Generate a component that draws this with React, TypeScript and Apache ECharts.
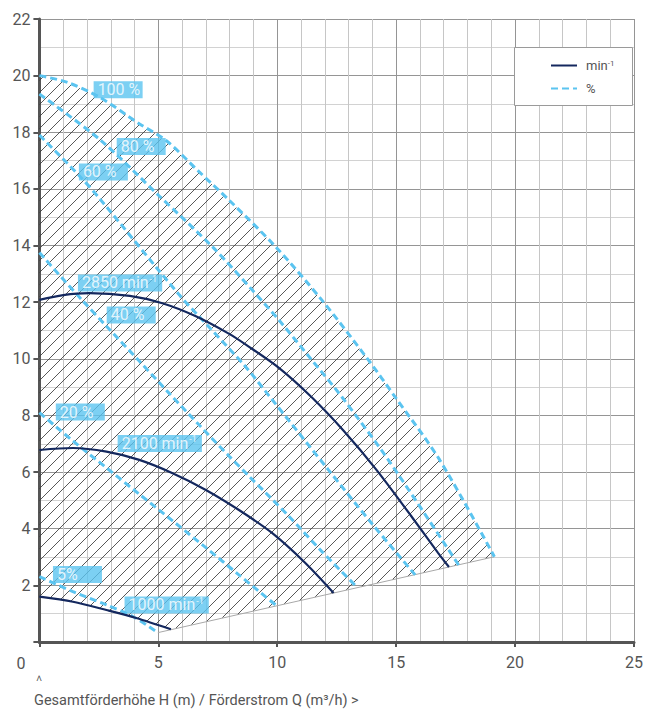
import React, { useEffect, useRef } from "react";
import * as echarts from "echarts";

// Percent lines (Q m³/h, H m)
const pct100 = [[0, 20], [1.15, 19.77], [2.53, 19.24], [4.2, 18.3], [5.34, 17.7], [6.72, 16.6], [7.98, 15.6], [9.93, 13.96], [11.87, 12.08], [13.83, 9.96], [14.95, 8.66], [16.83, 6.43], [19.13, 3.01]];
const pct80 = [[0, 19.35], [2.53, 17.75], [5.04, 15.75], [7.27, 13.96], [8.95, 12.43], [10.07, 11.37], [11.45, 9.96], [12.71, 8.66], [14.67, 6.43], [17.68, 2.65]];
const pct60 = [[0, 17.9], [1.7, 16.45], [2.54, 15.65], [5.89, 12.25], [7.27, 11.0], [8.67, 9.72], [9.65, 8.7], [12.16, 6.07], [13.96, 4.2], [15.8, 2.37]];
const pct40 = [[0, 13.75], [1.82, 12.05], [2.82, 11.15], [4.2, 9.92], [5.46, 8.78], [6.72, 7.66], [7.98, 6.56], [8.82, 5.85], [10.48, 4.45], [11.87, 3.2], [13.34, 1.95]];
const pct20 = [[0, 8.1], [1.41, 7.1], [2.82, 6.15], [4.2, 5.22], [5.6, 4.28], [7.0, 3.33], [8.39, 2.37], [9.93, 1.31]];
const pct5 = [[0, 2.31], [1.41, 1.78], [2.82, 1.31], [3.93, 0.9], [4.98, 0.33]];

// Speed curves
const rpm2850 = [[0, 12.08], [1, 12.25], [2.1, 12.32], [3.8, 12.22], [5.17, 11.96], [6.58, 11.5], [7.98, 10.88], [8.68, 10.5], [10.07, 9.68], [11.45, 8.64], [12.8, 7.45], [14.18, 6.07], [15.63, 4.45], [16.76, 3.15], [17.22, 2.65]];
const rpm2100 = [[0, 6.78], [1.41, 6.85], [2.82, 6.72], [4.2, 6.43], [5.6, 5.96], [7.0, 5.37], [8.39, 4.66], [9.78, 3.85], [11.18, 2.79], [12.37, 1.73]];
const rpm1000 = [[0, 1.6], [1.41, 1.42], [2.82, 1.13], [4.07, 0.85], [5.53, 0.45]];

// Lower boundary of the operating range
const boundary = [[4.98, 0.33], [19.13, 3.01]];

// Curve labels [text, Q, H]
const pctLabels = [["100 %", 2.28, 19.5], ["80 %", 3.25, 17.5], ["60 %", 1.66, 16.6], ["40 %", 2.83, 11.55], ["20 %", 0.69, 8.12], ["5%", 0.57, 2.38]];
const rpmLabels = [["2850 min{s|-1}", 1.62, 12.68], ["2100 min{s|-1}", 3.29, 7.01], ["1000 min{s|-1}", 3.58, 1.31]];

const xTicks = [0, 5, 10, 15, 20, 25];
const yTicks = [0, 2, 4, 6, 8, 10, 12, 14, 16, 18, 20, 22];

const NAVY = "#14285e";
const LIGHT = "#5bc4f0";
const FONT = "Roboto, 'Noto Sans', sans-serif";
const RPM_NAME = "min-1";
const PCT_NAME = "%";

function makeHatch(): string {
  const c = document.createElement("canvas");
  const s = 12;
  c.width = s;
  c.height = s;
  const ctx = c.getContext("2d");
  if (ctx) {
    ctx.strokeStyle = "#3a3a3a";
    ctx.lineWidth = 0.85;
    ctx.beginPath();
    ctx.moveTo(-2, s + 2);
    ctx.lineTo(s + 2, -2);
    ctx.moveTo(-2, 2);
    ctx.lineTo(2, -2);
    ctx.moveTo(s - 2, s + 2);
    ctx.lineTo(s + 2, s - 2);
    ctx.stroke();
  }
  return c.toDataURL();
}

export default function App() {
  const ref = useRef<HTMLDivElement>(null);
  useEffect(() => {
    document.body.style.margin = "0";
    if (!ref.current) return;
    const chart = echarts.init(ref.current, null, { renderer: "svg" });
    const hatch = makeHatch();

    const pctSeries = [pct100, pct80, pct60, pct40, pct20, pct5].map((d) => ({
      type: "line",
      name: PCT_NAME,
      data: d,
      smooth: 0.3,
      symbol: "none",
      z: 3,
      lineStyle: { color: LIGHT, width: 3, type: [7, 4] },
      itemStyle: { color: LIGHT },
    }));
    const rpmSeries = [rpm2850, rpm2100, rpm1000].map((d) => ({
      type: "line",
      name: RPM_NAME,
      data: d,
      smooth: 0.3,
      symbol: "none",
      z: 4,
      lineStyle: { color: NAVY, width: 2.2 },
      itemStyle: { color: NAVY },
    }));

    const labelBase = {
      show: true,
      position: "right",
      distance: 0,
      formatter: (p: any) => p.name,
      color: "#ffffff",
      backgroundColor: LIGHT,
      fontFamily: FONT,
      fontSize: 16,
      lineHeight: 17,
      align: "left",
    };

    chart.setOption({
      animation: false,
      textStyle: { fontFamily: FONT },
      grid: { left: 39.4, right: 9, top: 19, bottom: 71, containLabel: false },
      legend: {
        orient: "vertical",
        left: 550,
        top: 59,
        padding: 0,
        itemWidth: 26,
        itemHeight: 14,
        itemGap: 10,
        z: 10,
        selectedMode: false,
        itemStyle: { opacity: 0 },
        data: [RPM_NAME, PCT_NAME],
        formatter: (n: string) => (n === RPM_NAME ? "min{s|-1}" : n),
        textStyle: {
          fontSize: 13,
          color: "#555",
          fontFamily: FONT,
          padding: [0, 0, 0, 4],
          rich: { s: { fontSize: 8, color: "#555", fontFamily: FONT, verticalAlign: "top", padding: [0, 0, 5, 0] } },
        },
      },
      xAxis: {
        type: "value",
        min: xTicks[0],
        max: xTicks[xTicks.length - 1],
        interval: 5,
        axisLine: { show: true, onZero: false, lineStyle: { color: "#555", width: 3 } },
        axisTick: { show: true, length: 5, lineStyle: { color: "#555", width: 2 } },
        axisLabel: {
          color: "#555",
          fontSize: 16,
          margin: 12,
          fontFamily: FONT,
          formatter: (v: number) => (v === 0 ? "" : String(v)),
        },
        splitLine: { show: true, lineStyle: { color: "#959595", width: 1 } },
        minorTick: { show: false, splitNumber: 5 },
        minorSplitLine: { show: true, lineStyle: { color: "#c6c6c6", width: 1 } },
      },
      yAxis: {
        type: "value",
        min: yTicks[0],
        max: yTicks[yTicks.length - 1],
        interval: 2,
        axisLine: { show: true, onZero: false, lineStyle: { color: "#555", width: 3 } },
        axisTick: { show: true, length: 6, lineStyle: { color: "#555", width: 2 } },
        axisLabel: {
          color: "#555",
          fontSize: 16,
          margin: 9,
          fontFamily: FONT,
          formatter: (v: number) => (v === 0 ? "" : String(v)),
        },
        splitLine: { show: true, lineStyle: { color: "#959595", width: 1 } },
        minorTick: { show: false, splitNumber: 2 },
        minorSplitLine: { show: true, lineStyle: { color: "#d2d2d2", width: 1 } },
      },
      graphic: [
        {
          type: "rect",
          z: 5,
          silent: true,
          shape: { x: 514.5, y: 47.5, width: 118, height: 58 },
          style: { fill: "#ffffff", stroke: "#9a9a9a", lineWidth: 1 },
        },
        {
          type: "text",
          x: 21,
          y: 663,
          style: { text: "0", fill: "#555", font: `16px ${FONT}`, textAlign: "center", textVerticalAlign: "middle" },
        },
        {
          type: "text",
          x: 39,
          y: 681,
          style: { text: "^", fill: "#555", font: `300 15px ${FONT}`, textAlign: "center", textVerticalAlign: "middle" },
        },
        {
          type: "text",
          x: 34,
          y: 700,
          style: {
            text: "Gesamtförderhöhe H (m) / Förderstrom Q (m³/h) >",
            fill: "#555",
            font: `14.5px ${FONT}`,
            textAlign: "left",
            textVerticalAlign: "middle",
          },
        },
      ],
      series: [
        {
          type: "custom",
          name: "range",
          silent: true,
          z: 1,
          data: [[0, 0]],
          renderItem: (_params: any, api: any) => {
            const pts = [
              ...pct100,
              rpm1000[rpm1000.length - 1],
              ...rpm1000.slice().reverse(),
            ].map((p) => api.coord(p));
            return {
              type: "polygon",
              shape: { points: pts },
              style: {
                fill: { image: hatch, repeat: "repeat", imageWidth: 12, imageHeight: 12 },
                stroke: "none",
              },
            };
          },
        },
        {
          type: "line",
          name: "boundary",
          data: boundary,
          symbol: "none",
          z: 2,
          lineStyle: { color: "#a8a8a8", width: 1 },
        },
        ...pctSeries,
        ...rpmSeries,
        {
          type: "scatter",
          name: "pctLabels",
          symbolSize: 0,
          silent: true,
          z: 6,
          data: pctLabels.map((l) => ({ value: [l[1], l[2]], name: l[0] })),
          label: { ...labelBase, width: 42, padding: [0, 3, 0, 4] },
        },
        {
          type: "scatter",
          name: "rpmLabels",
          symbolSize: 0,
          silent: true,
          z: 6,
          data: rpmLabels.map((l) => ({ value: [l[1], l[2]], name: l[0] })),
          label: {
            ...labelBase,
            padding: [0, 5, 0, 4],
            rich: {
              s: { fontSize: 9, lineHeight: 17, verticalAlign: "top", color: "#ffffff", fontFamily: FONT, padding: [0, 0, 6, 1] },
            },
          },
        },
      ],
    });
    return () => chart.dispose();
  }, []);
  return <div ref={ref} style={{ width: 646, height: 713 }} />;
}
